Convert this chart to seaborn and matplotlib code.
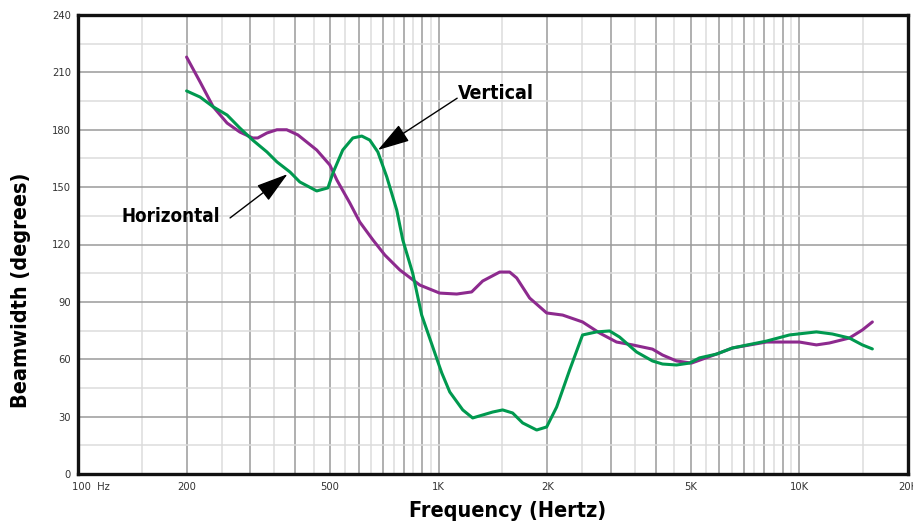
import numpy as np
import pandas as pd
import matplotlib
matplotlib.use("Agg")
import matplotlib.pyplot as plt
import matplotlib.transforms as mtransforms
import seaborn as sns

# ---- data ----
h_freq = [200, 218, 237, 259, 281, 305, 315, 334, 356, 379, 407, 459, 499, 522, 567, 604, 657,
          709, 780, 886, 1006, 1122, 1234, 1324, 1476, 1573, 1645, 1787, 1992, 2206, 2505,
          2793, 3112, 3446, 3914, 4174, 4563, 5022, 5890, 6523, 8102, 10000, 11146, 12109,
          13755, 14943, 15930]
h_deg = [218, 205, 192, 183.5, 178.8, 175.7, 175.7, 178.3, 180, 180, 177.3, 169.4, 161.6, 153.7,
         141.7, 131.8, 122.4, 114.5, 106.7, 98.8, 94.6, 94.1, 95.2, 100.9, 105.6, 105.6, 102.5,
         92, 84.2, 83.1, 79.5, 73.7, 69, 67.5, 65.3, 62.2, 59.1, 58, 62.7, 65.9, 69, 69, 67.5,
         68.5, 71.1, 75.3, 79.5]

v_freq = [200, 218, 237, 259, 281, 305, 334, 356, 387, 412, 459, 493, 509, 542, 578, 612, 644,
          678, 718, 765, 795, 847, 897, 1006, 1020, 1073, 1166, 1242, 1411, 1504, 1603, 1709,
          1869, 1992, 2123, 2307, 2505, 2740, 2977, 3173, 3536, 3914, 4174, 4563, 4959, 5284,
          5890, 6523, 8102, 9383, 11146, 12342, 13755, 14943, 15930]
v_deg = [200.3, 197.1, 192, 187.7, 180.9, 174.6, 168.4, 163.2, 157.9, 152.7, 148, 149.6, 157.4,
         169.4, 175.7, 176.7, 174.6, 168.4, 155.3, 138, 122.4, 105, 83.1, 56, 52.8, 42.9, 33.5,
         29.3, 32.4, 33.5, 31.9, 26.7, 23.0, 24.6, 35, 54.4, 72.7, 74.3, 74.8, 71.6, 63.8, 59.1,
         57.5, 57, 58, 60.7, 62.7, 65.9, 69.5, 72.7, 74.3, 73.2, 71.1, 67.5, 65.4]

x_ticks = [100, 200, 500, 1000, 2000, 5000, 10000, 20000]
x_ticklabels = ["100  Hz", "200", "500", "1K", "2K", "5K", "10K", "20K"]
y_ticks = [0, 30, 60, 90, 120, 150, 180, 210, 240]

df = pd.concat([
    pd.DataFrame({"freq": h_freq, "deg": h_deg, "series": "Horizontal"}),
    pd.DataFrame({"freq": v_freq, "deg": v_deg, "series": "Vertical"}),
])

sns.set_style("white")
plt.rcParams["font.family"] = ["DejaVu Sans"]
plt.rcParams["font.stretch"] = "condensed"

fig = plt.figure(figsize=(9.13, 5.25), dpi=100)
ax = fig.add_axes([78 / 913, 1 - 474 / 525, 830 / 913, 459 / 525])
ax.set_xscale("log")

# grid: dark at integer multiples, light at half multiples
dark_x = [m * d for d in (100, 1000) for m in range(2, 10)] + [1000, 10000]
light_x = [(m + 0.5) * d for d in (100, 1000) for m in range(1, 10)] + [15000]
for xv in light_x:
    ax.axvline(xv, color="#dcdcdc", lw=1.1, zorder=0)
for xv in dark_x:
    ax.axvline(xv, color="#9a9a9a", lw=1.1, zorder=0)
for yv in range(15, 240, 30):
    ax.axhline(yv, color="#dcdcdc", lw=1.1, zorder=0)
for yv in range(30, 240, 30):
    ax.axhline(yv, color="#9a9a9a", lw=1.1, zorder=0)

sns.lineplot(data=df, x="freq", y="deg", hue="series",
             palette={"Horizontal": "#8d2a8e", "Vertical": "#00994f"},
             lw=2.2, legend=False, ax=ax, sort=False, estimator=None, zorder=3)

ax.set_xlim(100, 20000)
ax.set_ylim(0, 240)
ax.set_xticks(x_ticks)
ax.set_xticklabels(x_ticklabels)
ax.xaxis.set_minor_locator(matplotlib.ticker.NullLocator())
ax.set_yticks(y_ticks)
ax.set_yticklabels([str(v) for v in y_ticks])
ax.tick_params(axis="both", length=0, labelsize=8, colors="#333333")
ax.tick_params(axis="x", pad=6)
ax.tick_params(axis="y", pad=5)
lbls = ax.get_xticklabels()
lbls[0].set_horizontalalignment("left")
lbls[0].set_transform(lbls[0].get_transform() +
                      mtransforms.ScaledTranslation(-6 / 100, 0, fig.dpi_scale_trans))
ax.set_xlabel("")
ax.set_ylabel("")

for s in ax.spines.values():
    s.set_visible(True)
    s.set_color("#111111")
    s.set_linewidth(2.4)
    s.set_zorder(5)

# annotations
arrow = dict(arrowstyle="-|>,head_length=2.0,head_width=0.6", color="black", lw=1.0,
             shrinkA=0, shrinkB=0)
ax.annotate("", xy=(678, 169.4), xytext=(1125, 196.5), arrowprops=arrow, zorder=6)
ax.annotate("", xy=(381, 156.8), xytext=(264, 133.9), arrowprops=arrow, zorder=6)
ax.text(1129, 198.7, "Vertical", fontsize=14, fontweight="bold", ha="left", va="center",
        color="black")
ax.text(247, 134.4, "Horizontal", fontsize=13.5, fontweight="bold", ha="right", va="center",
        color="black")

fig.text(508 / 913, 1 - 511 / 525, "Frequency (Hertz)", fontsize=15.5, fontweight="bold",
         ha="center", va="center", color="black")
fig.text(21 / 913, 1 - 290 / 525, "Beamwidth (degrees)", fontsize=15.5, fontweight="bold",
         ha="center", va="center", rotation=90, color="black")

fig.savefig("out.png", dpi=100)
